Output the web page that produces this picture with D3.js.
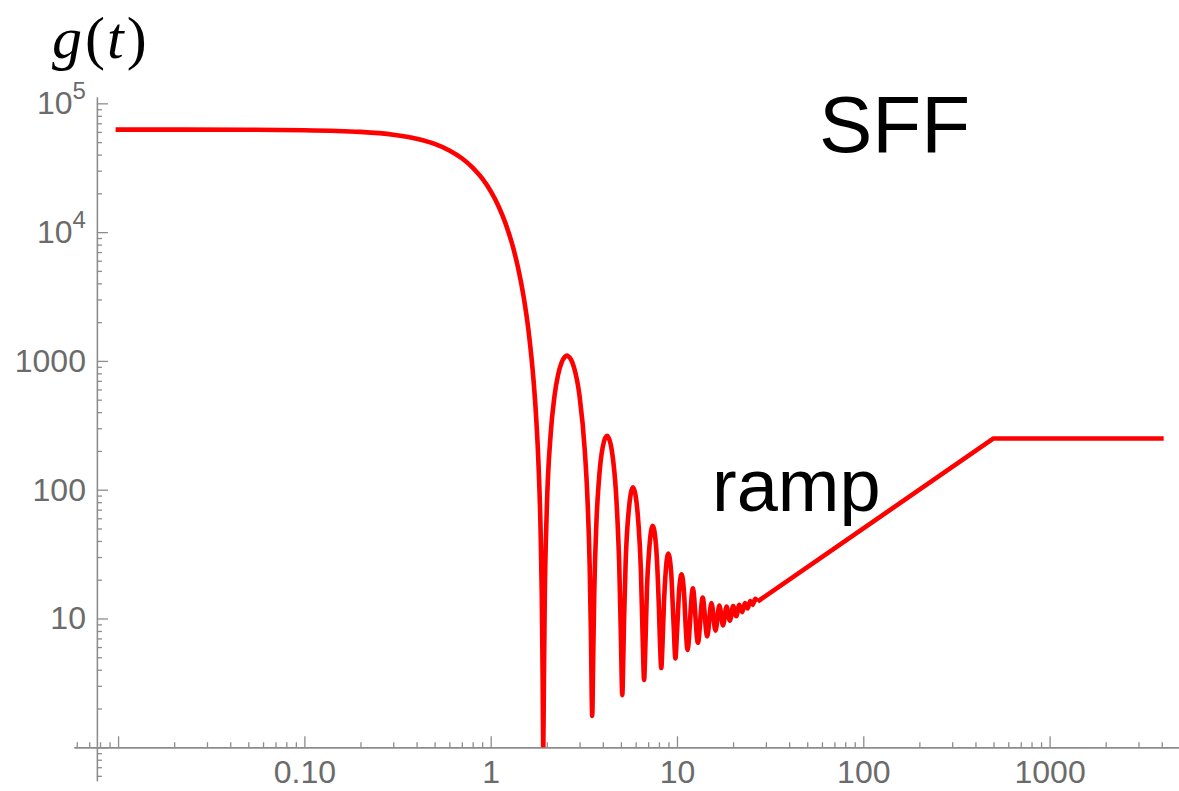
<!DOCTYPE html>
<html>
<head>
<meta charset="utf-8">
<script src="https://cdn.jsdelivr.net/npm/d3@7"></script>
<style>
  body { margin: 0; background: #fff; }
  svg { display: block; }
</style>
</head>
<body>
<svg id="chart" width="1179" height="791"></svg>
<script>
// curve: early plateau, decay, dips and bumps
var tVals = [0.0097, 0.05, 0.1, 0.2, 0.3, 0.4, 0.5, 0.6, 0.7, 0.8, 0.9, 1.0, 1.1, 1.2, 1.3, 1.4, 1.5, 1.6, 1.7, 1.75, 1.8, 1.85, 1.88, 1.9, 1.916,
    1.93, 1.95, 2.0, 2.1, 2.2, 2.3, 2.4, 2.5, 2.57, 2.6, 2.7, 2.8, 3.0, 3.2, 3.3, 3.4, 3.45, 3.508,
    3.55, 3.6, 3.7, 3.8, 4.0, 4.21, 4.4, 4.5, 4.7, 4.8, 4.9, 5.0, 5.087,
    5.15, 5.2, 5.3, 5.5, 5.81, 6.0, 6.2, 6.4, 6.55, 6.662,
    6.75, 6.9, 7.1, 7.4, 7.7, 8.0, 8.1, 8.235,
    8.35, 8.5, 8.7, 8.98, 9.3, 9.6, 9.808,
    10.0, 10.3, 10.594, 10.9, 11.2, 11.38,
    12.166, 12.952, 13.737, 14.523, 15.309, 16.095, 16.88, 17.666, 18.452, 19.237,
    20.023, 20.809, 21.594, 22.38, 23.166, 23.951, 24.737, 25.522, 26.308, 27.093];
var gVals = [62500, 62344, 61877, 60041, 57082, 53143, 48411, 43106, 37462, 31717, 26093, 20788, 15966, 11745, 8197, 5352, 3194, 1668, 695, 386, 177, 53.8, 15.7, 3.77, 0.958,
    3.15, 13.4, 69.1, 273, 532, 779, 968, 1074, 1099, 1090, 1024, 892, 533, 201, 91.9, 25.2, 8.04, 1.75,
    4.96, 16.6, 58.6, 112.5, 217, 262, 227, 188, 97.4, 55.4, 25.4, 7.23, 2.54,
    4.93, 9.85, 26.9, 67.3, 104.5, 89.6, 56.4, 23.9, 6.76, 3.33,
    5.41, 17.1, 34.8, 52.4, 38.2, 12.0, 6.72, 4.12,
    6.0, 12.5, 23.1, 31.9, 23.0, 8.76, 4.9,
    7.79, 17.5, 22.0, 16.05, 7.5, 5.69,
    17.13, 6.48, 14.54, 7.26, 13.2, 8.05, 12.58, 8.83, 12.4, 9.62,
    12.49, 10.4, 12.78, 11.19, 13.18, 11.98, 13.68, 12.76, 14.24, 13.55];
// ramp and late plateau
var tRamp = [27.093, 500, 4096];
var gRamp = [13.55, 250, 250];

var xMajor = [0.01, 0.1, 1, 10, 100, 1000];
var xLabels = ['', '0.10', '1', '10', '100', '1000'];
var yMajor = [1, 10, 100, 1000, 10000, 100000];
var yLabels = [['', ''], ['10', ''], ['100', ''], ['1000', ''], ['10', '4'], ['10', '5']];

var axisGray = '#8c8c8c';
var labelGray = '#6b6b6b';
var tickFont = 'Liberation Sans, Arial, sans-serif';

function draw() {
    var svg = d3.select('#chart');

    var x = d3.scaleLog().domain([0.0058, 4950]).range([74, 1179]);
    var y = d3.scaleLog().domain([0.55, 112000]).range([780.7, 97]);

    var xMinor = [], yMinor = [];
    for (var e = -3; e <= 3; e++) {
        for (var m = 2; m <= 9; m++) {
            var v = m * Math.pow(10, e);
            if (v >= 0.0058 && v <= 4950) xMinor.push(v);
        }
    }
    for (var e = -1; e <= 4; e++) {
        for (var m = 2; m <= 9; m++) {
            var v = m * Math.pow(10, e);
            if (v >= 0.55 && v <= 112000) yMinor.push(v);
        }
    }

    var xAt = y(1), yAt = x(0.0077);

    // x axis: minor ticks, then major ticks with labels
    svg.append('g').attr('class', 'xminor').attr('transform', 'translate(0,' + xAt + ')')
        .call(d3.axisBottom(x).tickValues(xMinor).tickSize(-5).tickSizeOuter(0).tickFormat(''));
    svg.append('g').attr('class', 'xmajor').attr('transform', 'translate(0,' + xAt + ')')
        .call(d3.axisBottom(x).tickValues(xMajor).tickSize(-11).tickSizeOuter(0).tickPadding(13)
            .tickFormat(function (d, i) { return xLabels[i]; }));

    // y axis
    svg.append('g').attr('class', 'yminor').attr('transform', 'translate(' + yAt + ',0)')
        .call(d3.axisLeft(y).tickValues(yMinor).tickSize(-5).tickSizeOuter(0).tickFormat(''));
    svg.append('g').attr('class', 'ymajor').attr('transform', 'translate(' + yAt + ',0)')
        .call(d3.axisLeft(y).tickValues(yMajor).tickSize(-11).tickSizeOuter(0).tickFormat(''));

    svg.selectAll('.xminor, .xmajor, .yminor, .ymajor').selectAll('path, line')
        .attr('stroke', axisGray).attr('stroke-width', 1.3);
    svg.selectAll('.xmajor text')
        .attr('fill', labelGray)
        .attr('font-family', tickFont)
        .attr('font-size', 32);
    svg.selectAll('.xminor text, .yminor text, .ymajor text').remove();

    for (var i = 0; i < yMajor.length; i++) {
        if (!yLabels[i][0]) continue;
        var lab = svg.append('text')
            .attr('x', yAt - 11)
            .attr('y', y(yMajor[i]) + 11)
            .attr('text-anchor', 'end')
            .attr('fill', labelGray)
            .attr('font-family', tickFont)
            .attr('font-size', 32);
        lab.append('tspan').text(yLabels[i][0]);
        if (yLabels[i][1]) {
            lab.append('tspan').text(yLabels[i][1])
                .attr('font-size', 24)
                .attr('dy', -15);
        }
    }

    // clip curve to the plot area (above g = 1)
    svg.append('clipPath').attr('id', 'clip')
        .append('rect').attr('x', 74).attr('y', 0).attr('width', 1105).attr('height', xAt);

    var pts = tVals.map(function (t, i) { return [t, gVals[i]]; });
    var ramp = tRamp.map(function (t, i) { return [t, gRamp[i]]; });

    var smooth = d3.line()
        .x(function (d) { return x(d[0]); })
        .y(function (d) { return y(d[1]); })
        .curve(d3.curveMonotoneX);
    var straight = d3.line()
        .x(function (d) { return x(d[0]); })
        .y(function (d) { return y(d[1]); });

    var curve = svg.append('g').attr('clip-path', 'url(#clip)');
    curve.append('path').attr('d', smooth(pts))
        .attr('fill', 'none').attr('stroke', '#ff0000').attr('stroke-width', 4.6)
        .attr('stroke-linejoin', 'round');
    curve.append('path').attr('d', straight(ramp))
        .attr('fill', 'none').attr('stroke', '#ff0000').attr('stroke-width', 4.6)
        .attr('stroke-linejoin', 'round');

    // y label g(t)
    var gt = svg.append('text')
        .attr('x', 52)
        .attr('y', 58)
        .attr('font-family', 'Liberation Serif, Times New Roman, serif')
        .attr('font-size', 60)
        .attr('fill', '#000');
    gt.append('tspan').text('g').attr('font-style', 'italic');
    gt.append('tspan').text('(').attr('dx', 3);
    gt.append('tspan').text('t').attr('font-style', 'italic').attr('dx', 2);
    gt.append('tspan').text(')').attr('dx', 3);

    svg.append('text')
        .text('SFF')
        .attr('x', 819)
        .attr('y', 151.5)
        .attr('font-family', tickFont)
        .attr('font-size', 80)
        .attr('fill', '#000');

    svg.append('text')
        .text('ramp')
        .attr('x', 712)
        .attr('y', 510.5)
        .attr('font-family', tickFont)
        .attr('font-size', 74)
        .attr('fill', '#000');
}

window.onload = draw;
</script>
</body>
</html>
